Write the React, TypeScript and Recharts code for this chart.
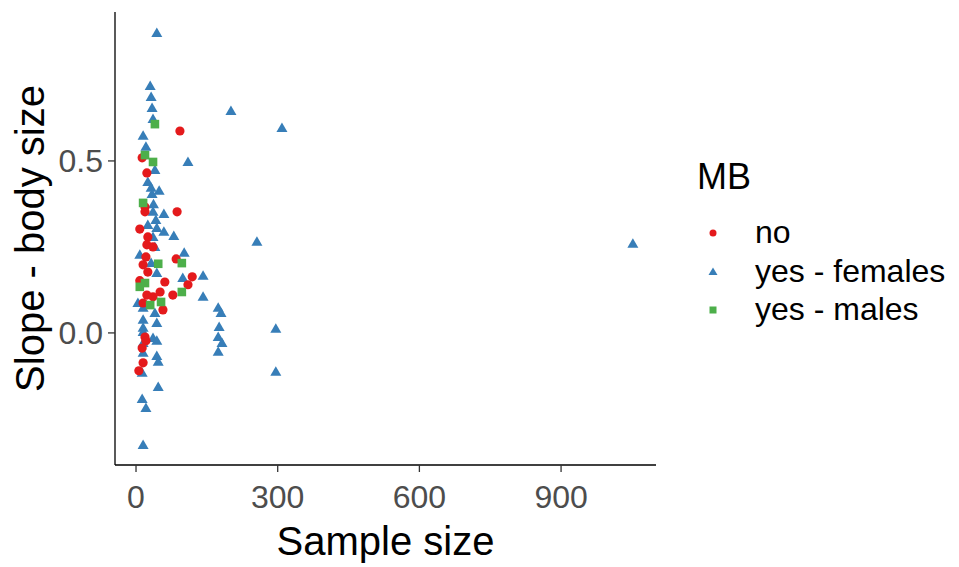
import React from "react";
import { ScatterChart, Scatter, XAxis, YAxis, Legend, Label } from "recharts";

// sample size, slope (body size)
const noPoints: [number, number][] = [
  [93, 0.587], [13, 0.509], [23, 0.465], [19, 0.366], [87, 0.352], [19, 0.352],
  [8, 0.302], [25, 0.279], [23, 0.256], [36, 0.25], [21, 0.221], [85, 0.215],
  [15, 0.198], [25, 0.177], [119, 0.163], [8, 0.152], [61, 0.148], [110, 0.14],
  [51, 0.119], [78, 0.11], [23, 0.11], [36, 0.105], [15, 0.087], [57, 0.067],
  [19, -0.012], [21, -0.023], [13, -0.044], [15, -0.087], [6, -0.11],
];

const femalesPoints: [number, number][] = [
  [44, 0.872], [30, 0.718], [32, 0.686], [34, 0.654], [36, 0.622], [15, 0.573],
  [201, 0.645], [309, 0.596], [21, 0.541], [110, 0.497], [40, 0.474], [25, 0.439],
  [32, 0.422], [49, 0.413], [34, 0.404], [37, 0.374], [36, 0.352], [59, 0.346],
  [42, 0.328], [25, 0.314], [44, 0.305], [59, 0.294], [80, 0.282], [36, 0.279],
  [40, 0.25], [256, 0.265], [8, 0.227], [102, 0.233], [32, 0.203], [142, 0.166],
  [44, 0.174], [99, 0.16], [142, 0.105], [4, 0.087], [15, 0.073], [40, 0.058],
  [15, 0.038], [44, 0.029], [15, 0.015], [15, 0.003], [36, -0.015], [44, -0.023],
  [15, -0.029], [15, -0.058], [44, -0.067], [47, -0.084], [13, -0.116], [47, -0.157],
  [13, -0.192], [21, -0.218], [15, -0.326], [174, 0.073], [180, 0.058], [176, 0.017],
  [296, 0.012], [174, -0.012], [182, -0.029], [174, -0.055], [296, -0.113], [1052, 0.259],
];

const malesPoints: [number, number][] = [
  [40, 0.607], [19, 0.517], [36, 0.497], [15, 0.378], [97, 0.203], [47, 0.201],
  [19, 0.145], [8, 0.134], [97, 0.119], [53, 0.09], [30, 0.081],
];

const xTicks = [0, 300, 600, 900];
const yTicks = [0, 0.5];

const RED = "#E41A1C";
const BLUE = "#377EB8";
const GREEN = "#4DAF4A";
const FONT = "'Liberation Sans', Arial, sans-serif";

const toRows = (pts: [number, number][]) => pts.map(([n, slope]) => ({ n, slope }));

const DotShape = (p: any) => <circle cx={p.cx} cy={p.cy} r={4.6} fill={p.fill} />;
const TriShape = (p: any) => (
  <polygon
    points={`${p.cx},${p.cy - 5.5} ${p.cx + 5.5},${p.cy + 4} ${p.cx - 5.5},${p.cy + 4}`}
    fill={p.fill}
  />
);
const SquareShape = (p: any) => (
  <rect x={p.cx - 4.3} y={p.cy - 4.3} width={8.6} height={8.6} fill={p.fill} />
);

function MbLegend() {
  const items = [
    { label: "no", color: RED, y: 83 },
    { label: "yes - females", color: BLUE, y: 122 },
    { label: "yes - males", color: GREEN, y: 160 },
  ];
  return (
    <svg width={275} height={200} style={{ fontFamily: FONT }}>
      <text x={17} y={39} fontSize={36} fill="#000">
        MB
      </text>
      {items.map((it, i) => (
        <g key={it.label}>
          {i === 0 && <circle cx={33} cy={it.y} r={3.5} fill={it.color} />}
          {i === 1 && (
            <polygon
              points={`33,${it.y - 4.5} 37.5,${it.y + 3} 28.5,${it.y + 3}`}
              fill={it.color}
            />
          )}
          {i === 2 && <rect x={29.5} y={it.y - 3.5} width={7} height={7} fill={it.color} />}
          <text x={75} y={it.y + 10} fontSize={32} fill="#000">
            {it.label}
          </text>
        </g>
      ))}
    </svg>
  );
}

export default function App() {
  return (
    <div style={{ position: "absolute", left: 0, top: 0, background: "#fff" }}>
      <ScatterChart
        width={959}
        height={567}
        margin={{ top: 12, right: 303, bottom: 0, left: 0 }}
        style={{ fontFamily: FONT }}
      >
        <XAxis
          type="number"
          dataKey="n"
          domain={[-44.5, 1101]}
          ticks={xTicks}
          allowDataOverflow
          height={102}
          tickSize={7}
          tickMargin={13}
          axisLine={{ stroke: "#000", strokeWidth: 1.3 }}
          tickLine={{ stroke: "#333", strokeWidth: 1.3 }}
          tick={{ fill: "#4D4D4D", fontSize: 32 }}
        >
          <Label
            content={() => (
              <text x={385.5} y={555} textAnchor="middle" fontSize={40} fill="#000">
                Sample size
              </text>
            )}
          />
        </XAxis>
        <YAxis
          type="number"
          dataKey="slope"
          domain={[-0.384, 0.933]}
          ticks={yTicks}
          allowDataOverflow
          width={115}
          tickSize={7}
          tickMargin={5}
          tickFormatter={(v: number) => v.toFixed(1)}
          axisLine={{ stroke: "#000", strokeWidth: 1.3 }}
          tickLine={{ stroke: "#333", strokeWidth: 1.3 }}
          tick={{ fill: "#4D4D4D", fontSize: 32 }}
        >
          <Label
            content={() => (
              <text
                x={44}
                y={238.5}
                transform="rotate(-90, 44, 238.5)"
                textAnchor="middle"
                fontSize={40}
                fill="#000"
              >
                Slope - body size
              </text>
            )}
          />
        </YAxis>
        <Legend
          layout="vertical"
          align="center"
          verticalAlign="middle"
          content={() => <MbLegend />}
          wrapperStyle={{ left: 680, top: 150, width: 275, height: 200 }}
        />
        <Scatter
          name="yes - females"
          data={toRows(femalesPoints)}
          fill={BLUE}
          shape={TriShape}
          isAnimationActive={false}
        />
        <Scatter
          name="no"
          data={toRows(noPoints)}
          fill={RED}
          shape={DotShape}
          isAnimationActive={false}
        />
        <Scatter
          name="yes - males"
          data={toRows(malesPoints)}
          fill={GREEN}
          shape={SquareShape}
          isAnimationActive={false}
        />
      </ScatterChart>
    </div>
  );
}
